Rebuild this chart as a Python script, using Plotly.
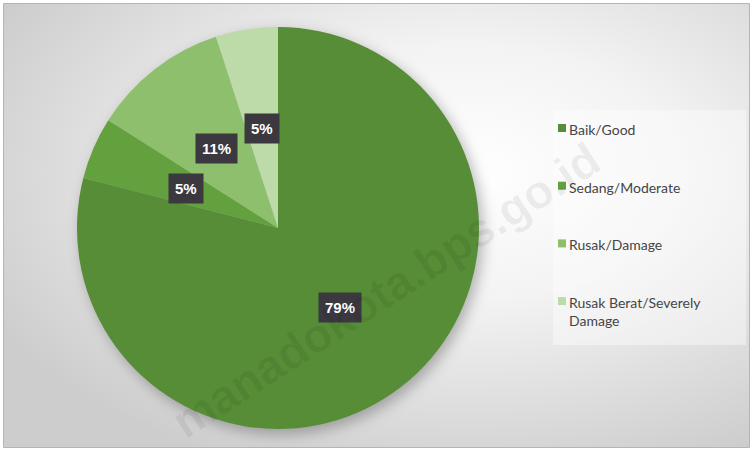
import base64
import math
import textwrap
import plotly.graph_objects as go

# ---- data ----
labels = ["Baik/Good", "Sedang/Moderate", "Rusak/Damage", "Rusak Berat/Severely Damage"]
values = [79, 5, 11, 5]
colors = ["#578d36", "#63a03e", "#8dbf6c", "#bcdba8"]
watermark = "manadokota.bps.go.id"

W, H = 753, 451
cx, cy, R = 278, 228, 201  # pie centre / radius in pixels

def px(x):
    return x / W

def py(y):
    return 1 - y / H

# background: radial gradient + soft pie shadow
svg = f"""<svg xmlns='http://www.w3.org/2000/svg' width='{W}' height='{H}'>
<defs>
<radialGradient id='g' cx='0.62' cy='0.38' r='0.72'>
<stop offset='0' stop-color='#ffffff'/>
<stop offset='0.4' stop-color='#f3f3f3'/>
<stop offset='1' stop-color='#cdcdcd'/>
</radialGradient>
<filter id='b' x='-20%' y='-20%' width='140%' height='140%'><feGaussianBlur stdDeviation='7'/></filter>
</defs>
<rect x='0' y='0' width='{W}' height='{H}' fill='#ffffff'/>
<rect x='4' y='4' width='{W-8}' height='{H-8}' fill='url(#g)'/>
<circle cx='{cx+4}' cy='{cy+5}' r='{R}' fill='rgba(0,0,0,0.28)' filter='url(#b)'/>
</svg>"""
src = "data:image/svg+xml;base64," + base64.b64encode(svg.encode()).decode()

fig = go.Figure()
fig.add_trace(go.Pie(
    labels=labels, values=values, sort=False, direction="clockwise", rotation=0,
    marker=dict(colors=colors, line=dict(width=0)),
    textinfo="none", hoverinfo="label+percent", showlegend=False,
    domain=dict(x=[px(cx - R), px(cx + R)], y=[py(cy + R), py(cy - R)]),
))

annotations = []
shapes = []

# data labels in dark boxes, placed at slice mid-angles
total = sum(values)
cum = 0
for v in values:
    mid = (cum + v / 2) / total * 2 * math.pi
    cum += v
    r = 0.5 * R
    x = cx + r * math.sin(mid)
    y = cy - r * math.cos(mid)
    annotations.append(dict(
        x=px(x), y=py(y), xref="paper", yref="paper", showarrow=False,
        xanchor="center", yanchor="middle",
        text=f"<b>{round(v / total * 100)}%</b>",
        font=dict(family="Liberation Sans, Arial", size=15, color="white"),
        bgcolor="#3b393f", borderpad=6,
    ))

# manual legend
leg_x0, leg_y0, leg_x1, leg_y1 = 553, 110, 746, 345
shapes.append(dict(type="rect", xref="paper", yref="paper",
                   x0=px(leg_x0), x1=px(leg_x1), y0=py(leg_y1), y1=py(leg_y0),
                   fillcolor="rgba(255,255,255,0.4)", line=dict(width=0), layer="below"))
for i, (lab, col) in enumerate(zip(labels, colors)):
    yc = 128 + i * 57.7
    shapes.append(dict(type="rect", xref="paper", yref="paper",
                       x0=px(558), x1=px(566), y0=py(yc + 4), y1=py(yc - 4),
                       fillcolor=col, line=dict(width=0)))
    lines = textwrap.wrap(lab, 20)
    annotations.append(dict(
        x=px(567), y=py(yc - 9), xref="paper", yref="paper", showarrow=False,
        xanchor="left", yanchor="top", align="left",
        text="<br>".join(lines),
        font=dict(family="Lato, Open Sans, sans-serif", size=14, color="#454545"),
    ))

# watermark
annotations.append(dict(
    x=px(385), y=py(290), xref="paper", yref="paper", showarrow=False,
    xanchor="center", yanchor="middle",
    text=f"<b>{watermark}</b>", textangle=-33,
    font=dict(family="Liberation Sans, Arial", size=47, color="rgba(0,0,0,0.06)"),
))

# outer border
shapes.append(dict(type="rect", xref="paper", yref="paper",
                   x0=px(3.5), x1=px(W - 3.5), y0=py(H - 3.5), y1=py(3.5),
                   line=dict(color="#b5b5b5", width=1), fillcolor="rgba(0,0,0,0)"))

fig.update_layout(
    width=W, height=H, margin=dict(l=0, r=0, t=0, b=0),
    paper_bgcolor="white", plot_bgcolor="white",
    images=[dict(source=src, xref="paper", yref="paper", x=0, y=1, sizex=1, sizey=1,
                 xanchor="left", yanchor="top", sizing="stretch", layer="below")],
    annotations=annotations, shapes=shapes,
)

fig.write_html("out.html", config={"displayModeBar": False},
               post_script="document.body.style.margin='0';document.body.style.overflow='hidden';")
